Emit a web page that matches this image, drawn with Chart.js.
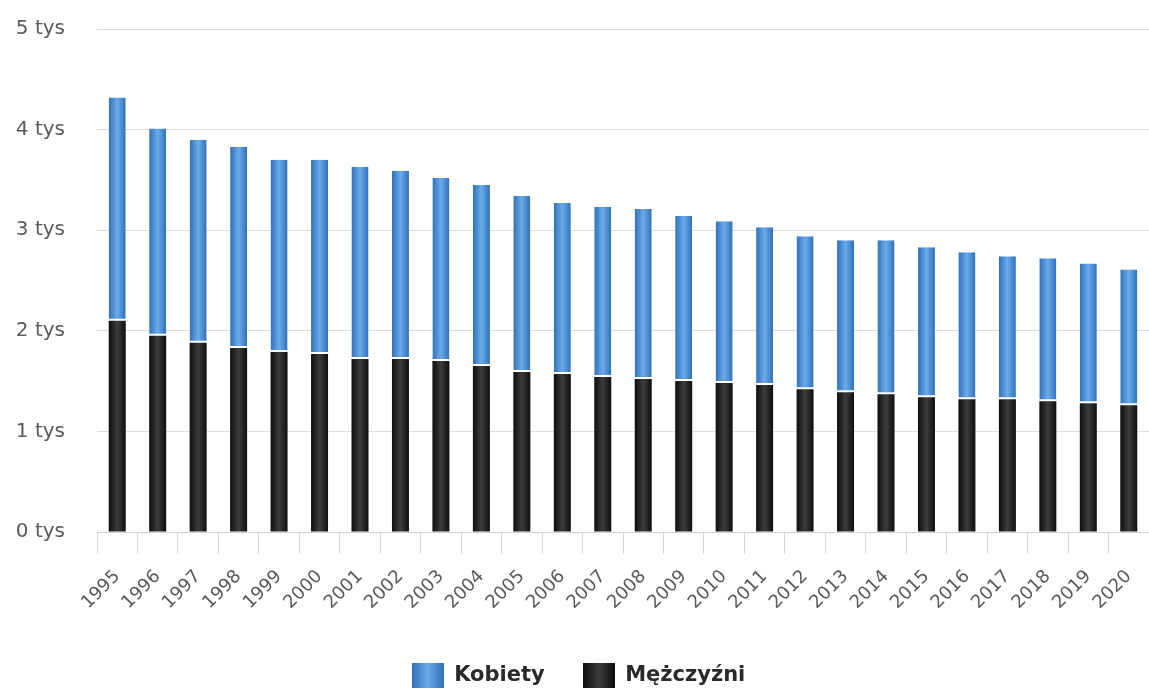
<!DOCTYPE html>
<html>
<head>
<meta charset="utf-8">
<script src="https://cdn.jsdelivr.net/npm/chart.js@4/dist/chart.umd.min.js"></script>
<style>
    body { margin: 0; background: #fff; overflow: hidden; }
    #wrap { width: 1149px; height: 693px; }
</style>
</head>
<body>
<div id="wrap"><canvas id="chart"></canvas></div>
<script>
let years = ['1995', '1996', '1997', '1998', '1999', '2000', '2001', '2002', '2003', '2004', '2005', '2006', '2007',
    '2008', '2009', '2010', '2011', '2012', '2013', '2014', '2015', '2016', '2017', '2018', '2019', '2020'];
let men = [2100, 1950, 1880, 1830, 1790, 1770, 1720, 1720, 1700, 1650, 1590, 1570, 1540,
    1520, 1500, 1480, 1460, 1420, 1390, 1370, 1340, 1320, 1320, 1300, 1280, 1260];
let women = [2220, 2060, 2020, 2000, 1910, 1930, 1910, 1870, 1820, 1800, 1750, 1700, 1690,
    1690, 1640, 1610, 1570, 1520, 1510, 1530, 1490, 1460, 1420, 1420, 1390, 1350];
let yTicks = [0, 1000, 2000, 3000, 4000, 5000];

const BAR_PCT = 0.42;
const FONT = '"DejaVu Sans", sans-serif';

function barGradient(context, edge, mid) {
    let chart = context.chart;
    let x = chart.scales && chart.scales.x;
    if (!x || context.dataIndex === undefined || !chart.chartArea) return edge;
    let cx = x.getPixelForValue(context.dataIndex);
    let half = (x.width / years.length) * BAR_PCT / 2;
    let g = chart.ctx.createLinearGradient(cx - half, 0, cx + half, 0);
    g.addColorStop(0, edge);
    g.addColorStop(0.5, mid);
    g.addColorStop(1, edge);
    return g;
}

function legendBox(edge, mid) {
    let c = document.createElement('canvas');
    c.width = 32;
    c.height = 25;
    let cx = c.getContext('2d');
    let g = cx.createLinearGradient(0, 0, 32, 0);
    g.addColorStop(0, edge);
    g.addColorStop(0.5, mid);
    g.addColorStop(1, edge);
    cx.fillStyle = g;
    cx.fillRect(0, 0, 32, 25);
    return c;
}

let ctx = document.getElementById('chart').getContext('2d');
new Chart(ctx, {
    type: 'bar',
    data: {
        labels: years,
        datasets: [{
            label: 'Mężczyźni',
            data: men,
            backgroundColor: c => barGradient(c, '#0e0e0e', '#3c3c3c'),
            borderWidth: 0,
            pointStyle: legendBox('#0e0e0e', '#3c3c3c')
        }, {
            label: 'Kobiety',
            data: women,
            backgroundColor: c => barGradient(c, '#3070bc', '#6cabe8'),
            borderColor: '#ffffff',
            borderWidth: { top: 0, left: 0, right: 0, bottom: 2 },
            borderSkipped: false,
            pointStyle: legendBox('#3070bc', '#6cabe8')
        }]
    },
    options: {
        responsive: true,
        maintainAspectRatio: false,
        animation: false,
        datasets: { bar: { categoryPercentage: 1, barPercentage: BAR_PCT } },
        layout: { padding: { left: 8, top: 29, right: 0, bottom: -3 } },
        plugins: {
            tooltip: { enabled: false },
            legend: {
                position: 'bottom',
                reverse: true,
                labels: {
                    usePointStyle: true,
                    pointStyleWidth: 32,
                    boxHeight: 25,
                    padding: 38,
                    color: '#2a2a2a',
                    font: { family: FONT, size: 21, weight: 'bold' }
                }
            }
        },
        scales: {
            x: {
                stacked: true,
                grid: { drawOnChartArea: false, offset: true, tickLength: 22, color: '#d8d8d8' },
                border: { color: '#d0d0d0' },
                ticks: {
                    minRotation: 45,
                    maxRotation: 45,
                    padding: 12,
                    color: '#5a5a5a',
                    font: { family: FONT, size: 18 }
                },
                afterFit: axis => {
                    axis.paddingLeft = 0;
                    axis.paddingRight = 0;
                    axis.height = 95;
                }
            },
            y: {
                stacked: true,
                min: 0,
                max: 5000,
                afterBuildTicks: axis => { axis.ticks = yTicks.map(v => ({ value: v })); },
                afterFit: axis => {
                    axis.width = 89;
                    axis.paddingTop = 0;
                    axis.paddingBottom = 0;
                },
                grid: { color: '#dedede', drawTicks: false },
                border: { display: false },
                ticks: {
                    padding: 32,
                    color: '#5a5a5a',
                    font: { family: FONT, size: 20 },
                    callback: v => (v / 1000) + ' tys'
                }
            }
        }
    }
});
</script>
</body>
</html>
